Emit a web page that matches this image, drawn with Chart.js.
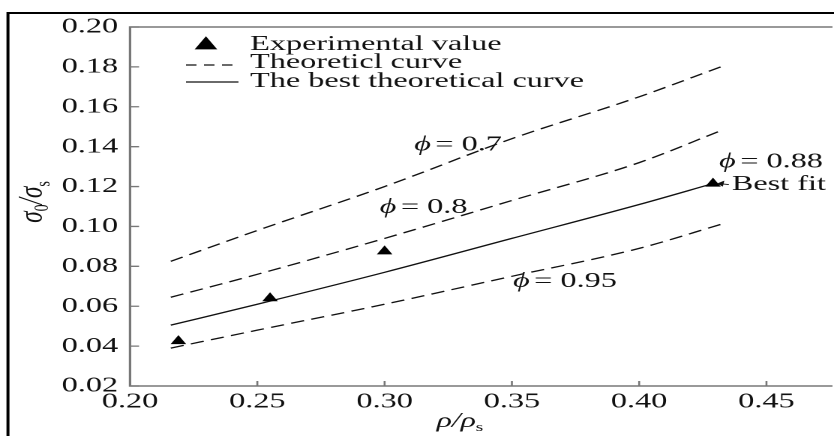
<!DOCTYPE html>
<html><head><meta charset="utf-8">
<script src="https://cdn.jsdelivr.net/npm/chart.js@4.4.1/dist/chart.umd.min.js"></script>
<style>
html,body{margin:0;padding:0;background:#fff;overflow:hidden;width:834px;height:436px;}
#wrap{position:absolute;left:0;top:0;width:556px;height:436px;transform:scaleX(1.5);transform-origin:0 0;}
canvas{display:block;}
</style></head><body>
<div id="wrap"><canvas id="c"></canvas></div>
<script>
// ---- data ----
const curveX  = [0.216, 0.25, 0.30, 0.35, 0.40, 0.432];
const phi07   = [0.0825, 0.098, 0.120, 0.144, 0.165, 0.180];
const phi08   = [0.0645, 0.076, 0.094, 0.113, 0.132, 0.148];
const phi095  = [0.039, 0.048, 0.061, 0.075, 0.089, 0.101];
const bestX   = [0.216, 0.25, 0.30, 0.35, 0.40, 0.429];
const bestFit = [0.0505, 0.061, 0.077, 0.094, 0.111, 0.1215];
const expX    = [0.219, 0.255, 0.300, 0.429];
const expY    = [0.0425, 0.064, 0.0875, 0.1215];
const xTicks  = [0.20, 0.25, 0.30, 0.35, 0.40, 0.45];
const yTicks  = [0.02, 0.04, 0.06, 0.08, 0.10, 0.12, 0.14, 0.16, 0.18, 0.20];
const legendLabels = ['Experimental value', 'Theoreticl curve', 'The best theoretical curve'];
const curveNames = ['0.7', '0.8', '0.95', '0.88'];

const pts = (xs, ys) => xs.map((x, i) => ({x: x, y: ys[i]}));
const FONT = "'Liberation Serif','Times New Roman',serif";
const TXT = '#111';
const AXIS = '#777';

const dashed = (label, ys) => ({
  label: label, data: pts(curveX, ys), borderColor: '#111', borderWidth: 1.3,
  borderDash: [9, 5], pointRadius: 0, showLine: true, fill: false, cubicInterpolationMode: 'monotone'
});

const datasets = [
  {label: legendLabels[0], data: pts(expX, expY), showLine: false, pointStyle: 'triangle',
   pointRadius: 6, pointBackgroundColor: '#000', pointBorderColor: '#000', pointBorderWidth: 0},
  dashed('ϕ = ' + curveNames[0], phi07),
  dashed('ϕ = ' + curveNames[1], phi08),
  dashed('ϕ = ' + curveNames[2], phi095),
  {label: 'ϕ = ' + curveNames[3], data: pts(bestX, bestFit), borderColor: '#111', borderWidth: 1.3,
   pointRadius: 0, showLine: true, fill: false, cubicInterpolationMode: 'monotone'}
];

// annotation anchors in data coordinates
const notes = [
  {phi: curveNames[0], x: 0.3116, y: 0.141},
  {phi: curveNames[1], x: 0.2981, y: 0.1095},
  {phi: curveNames[2], x: 0.3504, y: 0.0725},
  {phi: curveNames[3], x: 0.4314, y: 0.1325}
];
const bestNote = {text: 'Best fit', x: 0.4364, y: 0.1215};

function drawSegs(ctx, segs, x, y, align) {
  let w = 0;
  segs.forEach(s => { ctx.font = s.f; s.w = ctx.measureText(s.t).width + (s.gap || 0); w += s.w; });
  let cx = align === 'center' ? x - w / 2 : x;
  segs.forEach(s => { ctx.font = s.f; ctx.fillText(s.t, cx, y + (s.dy || 0)); cx += s.w; });
}

const deco = {
  id: 'deco',
  afterDraw(chart) {
    const ctx = chart.ctx, a = chart.chartArea;
    const xs = chart.scales.x, ys = chart.scales.y;
    ctx.save();
    // outer frame
    ctx.strokeStyle = '#000'; ctx.lineWidth = 2;
    ctx.beginPath(); ctx.moveTo(5.3, 440); ctx.lineTo(5.3, 13); ctx.lineTo(560, 13); ctx.stroke();
    // plot frame
    ctx.strokeStyle = AXIS; ctx.lineWidth = 1.6;
    ctx.beginPath();
    ctx.moveTo(a.right + 5, a.top); ctx.lineTo(a.left, a.top); ctx.lineTo(a.left, a.bottom); ctx.lineTo(a.right + 5, a.bottom);
    ctx.stroke();
    // inward ticks
    ctx.lineWidth = 1.3;
    ctx.beginPath();
    yTicks.forEach(v => { const p = ys.getPixelForValue(v); ctx.moveTo(a.left, p); ctx.lineTo(a.left + 6, p); });
    xTicks.forEach(v => { const p = xs.getPixelForValue(v); ctx.moveTo(p, a.bottom); ctx.lineTo(p, a.bottom - 5); });
    ctx.stroke();

    // legend
    ctx.fillStyle = TXT; ctx.textBaseline = 'alphabetic'; ctx.textAlign = 'left';
    ctx.font = '21.5px ' + FONT;
    const lx = 166.7, sx0 = 124, sx1 = 157;
    const tr = 8.7, tx = 137.3, ty = 45;
    ctx.fillStyle = '#000';
    ctx.beginPath();
    ctx.moveTo(tx, ty - tr);
    ctx.lineTo(tx + Math.sin(2 * Math.PI / 3) * tr, ty + tr / 2);
    ctx.lineTo(tx - Math.sin(2 * Math.PI / 3) * tr, ty + tr / 2);
    ctx.closePath(); ctx.fill();
    ctx.fillStyle = TXT;
    ctx.fillText(legendLabels[0], lx, 50);
    ctx.strokeStyle = '#111'; ctx.lineWidth = 1.3;
    ctx.setLineDash([7, 5]);
    ctx.beginPath(); ctx.moveTo(sx0, 65); ctx.lineTo(sx1, 65); ctx.stroke();
    ctx.setLineDash([]);
    ctx.fillText(legendLabels[1], lx, 68);
    ctx.beginPath(); ctx.moveTo(sx0, 82); ctx.lineTo(sx1 + 2, 82); ctx.stroke();
    ctx.fillText(legendLabels[2], lx, 87);

    // curve annotations
    ctx.textBaseline = 'middle';
    notes.forEach(n => {
      drawSegs(ctx, [
        {t: 'ϕ', f: 'italic 21.5px ' + FONT, gap: 3},
        {t: '= ' + n.phi, f: '21.5px ' + FONT}
      ], xs.getPixelForValue(n.x), ys.getPixelForValue(n.y), 'left');
    });
    const bx = xs.getPixelForValue(bestNote.x), by = ys.getPixelForValue(bestNote.y);
    ctx.font = '21.5px ' + FONT;
    ctx.fillText(bestNote.text, bx, by + 1);
    ctx.strokeStyle = '#111'; ctx.fillStyle = '#111'; ctx.lineWidth = 1;
    ctx.beginPath(); ctx.moveTo(bx - 2, by + 1); ctx.lineTo(bx - 9, by); ctx.stroke();
    ctx.beginPath(); ctx.moveTo(bx - 10, by); ctx.lineTo(bx - 5, by - 3); ctx.lineTo(bx - 6, by + 3); ctx.closePath(); ctx.fill();

    // axis titles
    ctx.fillStyle = TXT; ctx.textBaseline = 'alphabetic';
    drawSegs(ctx, [
      {t: 'ρ', f: 'italic 21px ' + FONT},
      {t: '/', f: 'italic 21px ' + FONT},
      {t: 'ρ', f: 'italic 21px ' + FONT},
      {t: 's', f: '13px ' + FONT, dy: 4}
    ], 306.7, 427, 'center');
    ctx.save();
    ctx.translate(28, 202);
    ctx.rotate(-Math.PI / 2);
    drawSegs(ctx, [
      {t: 'σ', f: 'italic 23px ' + FONT},
      {t: '0', f: '14px ' + FONT, dy: 4},
      {t: '/', f: 'italic 23px ' + FONT},
      {t: 'σ', f: 'italic 23px ' + FONT},
      {t: 's', f: '14px ' + FONT, dy: 5}
    ], 0, 0, 'center');
    ctx.restore();
    ctx.restore();
  }
};

new Chart(document.getElementById('c'), {
  type: 'scatter',
  data: {datasets: datasets},
  options: {
    responsive: true, maintainAspectRatio: false, animation: false, devicePixelRatio: 2,
    layout: {padding: {top: 27, left: 0, right: 0, bottom: 0}},
    plugins: {legend: {display: false}, tooltip: {enabled: false}},
    scales: {
      x: {
        type: 'linear', min: 0.2, max: 0.473,
        afterBuildTicks: s => { s.ticks = xTicks.map(v => ({value: v})); },
        afterFit: s => { s.height = 50; },
        grid: {display: false, drawTicks: false}, border: {display: false},
        ticks: {callback: v => Number(v).toFixed(2), font: {family: FONT, size: 21.5}, color: TXT,
                padding: 3, maxRotation: 0, autoSkip: false}
      },
      y: {
        type: 'linear', min: 0.02, max: 0.20,
        afterBuildTicks: s => { s.ticks = yTicks.map(v => ({value: v})); },
        afterFit: s => { s.width = 86.7; },
        grid: {display: false, drawTicks: false}, border: {display: false},
        ticks: {callback: v => Number(v).toFixed(2), font: {family: FONT, size: 21.5}, color: TXT,
                padding: 8, autoSkip: false}
      }
    }
  },
  plugins: [deco]
});
</script>
</body></html>
